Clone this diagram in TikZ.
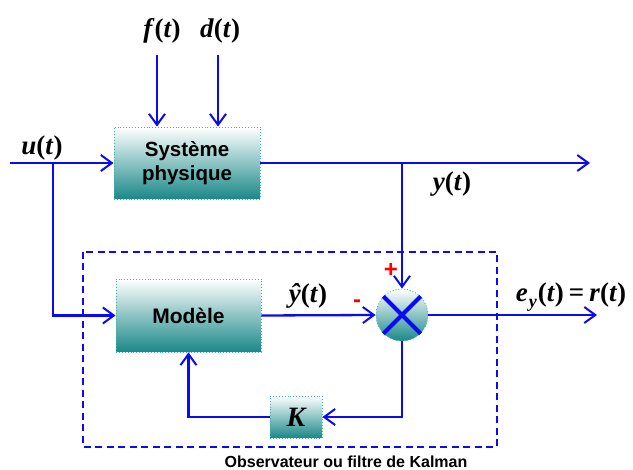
\documentclass[tikz,border=0pt]{standalone}
\usepackage{fontspec}
\setmainfont{Liberation Serif}
\newfontfamily\arialf{Liberation Sans}
\usetikzlibrary{arrows.meta,shadings}
\definecolor{tealb}{RGB}{25,136,136}
\definecolor{tealmid}{RGB}{190,212,212}
\definecolor{tealedge}{RGB}{60,180,180}
\definecolor{lineblue}{RGB}{10,10,245}
\newcommand{\mathlab}[1]{\fontsize{27}{30}\selectfont\bfseries #1}
\tikzset{
  blockbox/.style={draw=tealedge, dotted, line width=0.9pt, top color=white, middle color=tealmid, bottom color=tealb, inner sep=0pt},
  sig/.style={draw=lineblue, line width=2.3pt},
  sigarrow/.style={sig, -{Straight Barb[length=11pt,width=16pt,line width=2pt]}},
  lab/.style={inner sep=0pt},
  sign/.style={text=red, font=\arialf\fontsize{24}{24}\selectfont\bfseries, inner sep=0pt}
}
\begin{document}
\begin{tikzpicture}[x=1pt,y=-1pt]
\useasboundingbox (0,0) rectangle (633,470);
% dashed observer frame
\draw[lineblue, line width=1.7pt, dash pattern=on 7pt off 4.5pt] (83,252) rectangle (497,447);
% blocks
\node[blockbox, minimum width=146pt, minimum height=72pt, align=center,
      font=\arialf\fontsize{20.5}{23.5}\selectfont\bfseries] (sys) at (187,163) {Système\\physique};
\node[blockbox, minimum width=145pt, minimum height=73pt,
      font=\arialf\fontsize{21}{24}\selectfont\bfseries] (mod) at (188.5,315.5) {Modèle};
\node[blockbox, minimum width=52pt, minimum height=42pt,
      font=\fontsize{28}{30}\selectfont\bfseries\itshape] (K) at (296,417) {K};
\node[blockbox, circle, minimum size=52pt] (sum) at (402,315) {};
\draw[lineblue, line width=4pt] (sum.north west) -- (sum.south east)
      (sum.north east) -- (sum.south west);
% coordinates
\coordinate (uin) at (10,163);
\coordinate (uj) at (53,163);
\coordinate (yj) at (402,163);
\coordinate (yout) at (590,163);
\coordinate (fs) at (157,55);
\coordinate (ds) at (218,55);
\coordinate (eout) at (597,315);
% connectors
\draw[sigarrow] (uin) -- (sys.west);
\draw[sigarrow] (uj) |- (mod.west);
\draw[sigarrow] (sys.east) -- (yout);
\draw[sigarrow] (yj) -- (sum.north);
\draw[sigarrow] (fs) -- (fs |- sys.north);
\draw[sigarrow] (ds) -- (ds |- sys.north);
\draw[sigarrow] (mod.east) -- (sum.west);
\draw[sigarrow] (sum.east) -- (eout);
\draw[sigarrow] (sum.south) |- (K.east);
\draw[sigarrow] (K.west) -| (mod.south);
% labels
\node[lab] (fl) at (162,31) {\mathlab{\textit{f}(\textit{t})}};
\node[lab] (dl) at (220,31) {\mathlab{\textit{d}(\textit{t})}};
\node[lab] (ul) at (42,148) {\mathlab{\textit{u}(\textit{t})}};
\node[lab] (yl) at (452,184) {\mathlab{\textit{y}(\textit{t})}};
\node[lab] (yhl) at (308,296) {\mathlab{\textit{ŷ}(\textit{t})}};
\node[lab] (el) at (571,297) {\mathlab{\textit{e}\hspace{1pt}\raisebox{-6pt}{\fontsize{18}{18}\selectfont\textit{y}}\hspace{1pt}(\textit{t})\hspace{5pt}=\hspace{5pt}\textit{r}(\textit{t})}};
\node[sign] (plus) at (391,270) {+};
\node[sign] (minus) at (357,304) {-};
\node[lab, font=\arialf\fontsize{16}{18}\selectfont\bfseries] (obs) at (346,462) {Observateur ou filtre de Kalman};
\end{tikzpicture}
\end{document}
